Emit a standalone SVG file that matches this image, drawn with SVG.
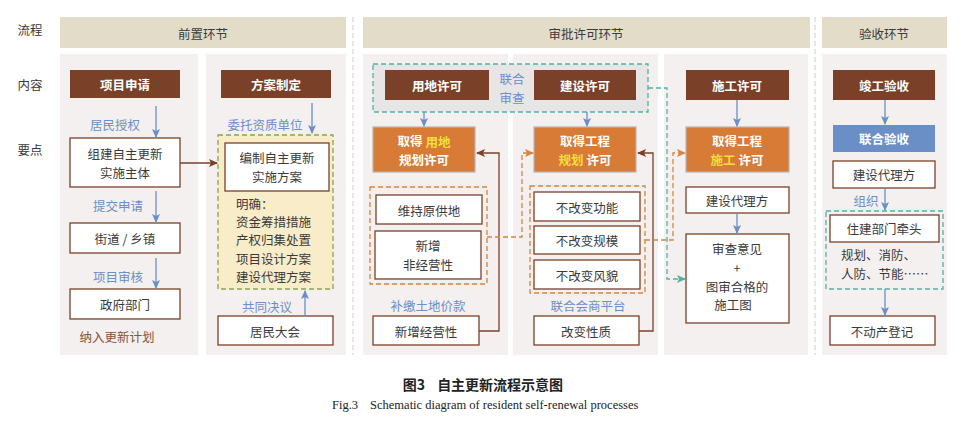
<svg xmlns="http://www.w3.org/2000/svg" width="971" height="421" viewBox="0 0 971 421">
<style>
.panel{fill:#f4f0ef}
.hdr{fill:#e3dcc8}
.bn{fill:#7a4128}
.wb{fill:#fff;stroke:#7a4128;stroke-width:1.3}
.ob{fill:#d77b37;stroke:#b5b5b5;stroke-width:1.2}
.blb{fill:#6a8fc6}
.t{font-family:"Noto Sans CJK SC","Noto Sans",sans-serif;font-size:12.5px;fill:#3a3a3a;text-anchor:middle;dominant-baseline:central}
.l{text-anchor:start}
.w{fill:#fff;font-weight:bold}
.b{fill:#6d8ec6}
.br{fill:#8a5038}
.y{fill:#f3df3c}
.arB{fill:none;stroke:#6a8fc8;stroke-width:1.3}
.arR{fill:none;stroke:#7a4128;stroke-width:1.3}
.dO{fill:none;stroke:#d8843e;stroke-width:1.3;stroke-dasharray:5,3}
.dT{fill:none;stroke:#4fb3a4;stroke-width:1.3;stroke-dasharray:5,3}
.dG{stroke:#86a64a;stroke-width:1.3;stroke-dasharray:5,3}
.sep{stroke:#d8d4d4;stroke-width:1.2;stroke-dasharray:5,3}
</style>
<defs>
<marker id="mB" markerWidth="10" markerHeight="10" refX="8" refY="4" orient="auto" markerUnits="userSpaceOnUse"><path d="M0,0 L9,4 L0,8 L2,4 z" fill="#6a8fc8"/></marker>
<marker id="mR" markerWidth="10" markerHeight="10" refX="8" refY="4" orient="auto" markerUnits="userSpaceOnUse"><path d="M0,0 L9,4 L0,8 L2,4 z" fill="#7a4128"/></marker>
<marker id="mO" markerWidth="10" markerHeight="10" refX="8" refY="4" orient="auto" markerUnits="userSpaceOnUse"><path d="M0,0 L9,4 L0,8 L2,4 z" fill="#d8843e"/></marker>
<marker id="mT" markerWidth="10" markerHeight="10" refX="8" refY="4" orient="auto" markerUnits="userSpaceOnUse"><path d="M0,0 L9,4 L0,8 L2,4 z" fill="#4fb3a4"/></marker>
</defs>
<rect width="971" height="421" fill="#fff"/>

<g id="rowlabels">
<text class="t" x="30" y="29">流程</text>
<text class="t" x="30" y="84">内容</text>
<text class="t" x="30" y="149">要点</text>
</g>

<g id="headers">
<rect class="hdr" x="60" y="17" width="286" height="31"/>
<text class="t" x="203" y="33">前置环节</text>
<rect class="hdr" x="363" y="17" width="447" height="31"/>
<text class="t" x="586" y="33">审批许可环节</text>
<rect class="hdr" x="822" y="17" width="125" height="31"/>
<text class="t" x="884" y="33">验收环节</text>
<line class="sep" x1="353" y1="17" x2="353" y2="355"/>
<line class="sep" x1="815" y1="17" x2="815" y2="355"/>
</g>

<g id="panels">
<rect class="panel" x="60" y="54" width="138" height="301"/>
<rect class="panel" x="206" y="54" width="140" height="301"/>
<rect class="panel" x="363" y="54" width="145" height="301"/>
<rect class="panel" x="513" y="54" width="145" height="301"/>
<rect class="panel" x="664" y="54" width="144" height="301"/>
<rect class="panel" x="822" y="54" width="125" height="301"/>
</g>

<!-- Column 1 -->
<g id="n-xmsq"><rect class="bn" x="70" y="70" width="110" height="28"/><text class="t w" x="125" y="84">项目申请</text></g>
<g id="n-zjzt"><rect class="wb" x="70" y="138" width="110" height="49"/><text class="t" x="125" y="153.5">组建自主更新</text><text class="t" x="125" y="172">实施主体</text></g>
<g id="n-jd"><rect class="wb" x="70" y="223" width="110" height="30"/><text class="t" x="125" y="238">街道 / 乡镇</text></g>
<g id="n-zf"><rect class="wb" x="70" y="289" width="110" height="30"/><text class="t" x="125" y="304">政府部门</text></g>
<g id="n-nr"><text class="t br" x="117" y="336">纳入更新计划</text></g>

<!-- Column 2 -->
<g id="n-fazd"><rect class="bn" x="221" y="70" width="110" height="28"/><text class="t w" x="276" y="84">方案制定</text></g>
<g id="n-famx">
<rect class="dG" x="218" y="135" width="115" height="154" fill="#f9ecc9"/>
<rect class="wb" x="225" y="143" width="104" height="48"/>
<text class="t" x="277" y="157.5">编制自主更新</text><text class="t" x="277" y="176">实施方案</text>
<text class="t l" x="236" y="203">明确：</text>
<text class="t l" x="236" y="221.4">资金筹措措施</text>
<text class="t l" x="236" y="239.8">产权归集处置</text>
<text class="t l" x="236" y="258.2">项目设计方案</text>
<text class="t l" x="236" y="276.6">建设代理方案</text>
</g>
<g id="n-jmdh"><rect class="wb" x="218" y="316" width="115" height="29"/><text class="t" x="275" y="331">居民大会</text></g>

<!-- Column 3/4 approvals -->
<g id="n-lhsc">
<rect x="373" y="64" width="275" height="48" fill="#e7e5e5" stroke="#4fb3a4" stroke-width="1.3" stroke-dasharray="5,3"/>
<text class="t b" x="512" y="78.5">联合</text><text class="t b" x="512" y="97">审查</text>
</g>
<g id="n-ydxk"><rect class="bn" x="385" y="70" width="104" height="30"/><text class="t w" x="437" y="85">用地许可</text></g>
<g id="n-jsxk"><rect class="bn" x="534" y="70" width="102" height="30"/><text class="t w" x="585" y="85">建设许可</text></g>
<g id="n-qdyd"><rect class="ob" x="373" y="127" width="102" height="45"/><text class="t w" x="424" y="140.5">取得 <tspan class="y">用地</tspan></text><text class="t w" x="424" y="159">规划许可</text></g>
<g id="n-qdgh"><rect class="ob" x="534" y="127" width="102" height="45"/><text class="t w" x="585" y="140.5">取得工程</text><text class="t w" x="585" y="159"><tspan class="y">规划</tspan> 许可</text></g>
<g id="n-ydgroup">
<rect class="dO" x="370" y="187" width="117" height="97"/>
<rect class="wb" x="376" y="195" width="106" height="29"/><text class="t" x="429" y="210">维持原供地</text>
<rect class="wb" x="375" y="231" width="106" height="48"/><text class="t" x="428" y="245.5">新增</text><text class="t" x="428" y="264">非经营性</text>
</g>
<g id="n-bj"><text class="t b" x="428" y="305">补缴土地价款</text></g>
<g id="n-xzjy"><rect class="wb" x="373" y="316" width="106" height="29"/><text class="t" x="426" y="331">新增经营性</text></g>
<g id="n-ghgroup">
<rect class="dO" x="530" y="186" width="115" height="107"/>
<rect class="wb" x="534" y="192" width="106" height="29"/><text class="t" x="587" y="207">不改变功能</text>
<rect class="wb" x="534" y="226" width="106" height="28"/><text class="t" x="587" y="240">不改变规模</text>
<rect class="wb" x="534" y="260" width="106" height="29"/><text class="t" x="587" y="275">不改变风貌</text>
</g>
<g id="n-lhhs"><text class="t b" x="588" y="305">联合会商平台</text></g>
<g id="n-gbxz"><rect class="wb" x="534" y="316" width="105" height="29"/><text class="t" x="586" y="331">改变性质</text></g>

<!-- Column 5 -->
<g id="n-sgxk"><rect class="bn" x="686" y="70" width="103" height="30"/><text class="t w" x="737" y="85">施工许可</text></g>
<g id="n-qdsg"><rect class="ob" x="686" y="127" width="103" height="45"/><text class="t w" x="737" y="140.5">取得工程</text><text class="t w" x="737" y="159"><tspan class="y">施工</tspan> 许可</text></g>
<g id="n-jsdl1"><rect class="wb" x="686" y="187" width="103" height="26"/><text class="t" x="737" y="200">建设代理方</text></g>
<g id="n-scyj"><rect class="wb" x="686" y="234" width="103" height="89"/>
<text class="t" x="737" y="248.5">审查意见</text><text class="t" x="737" y="267">+</text><text class="t" x="737" y="286">图审合格的</text><text class="t" x="733" y="304.5">施工图</text></g>

<!-- Column 6 -->
<g id="n-jgys"><rect class="bn" x="833" y="70" width="102" height="30"/><text class="t w" x="884" y="85">竣工验收</text></g>
<g id="n-lhys"><rect class="blb" x="833" y="125" width="102" height="27"/><text class="t w" x="884" y="138">联合验收</text></g>
<g id="n-jsdl2"><rect class="wb" x="833" y="161" width="102" height="27"/><text class="t" x="884" y="174">建设代理方</text></g>
<g id="n-zz"><text class="t b" x="866" y="200">组织</text></g>
<g id="n-zjbm">
<rect class="dT" x="826" y="211" width="117" height="78"/>
<rect class="wb" x="830" y="215" width="109" height="27"/><text class="t" x="884" y="228">住建部门牵头</text>
<text class="t l" x="841" y="254">规划、消防、</text>
<text class="t l" x="841" y="273">人防、节能……</text>
</g>
<g id="n-bdc"><rect class="wb" x="830" y="316" width="105" height="29"/><text class="t" x="882" y="331">不动产登记</text></g>

<g id="connectors">
<line class="arB" x1="156" y1="106" x2="156" y2="137" marker-end="url(#mB)"/>
<text class="t b" x="115" y="124">居民授权</text>
<line class="arB" x1="156" y1="191" x2="156" y2="222" marker-end="url(#mB)"/>
<text class="t b" x="118" y="205">提交申请</text>
<line class="arB" x1="156" y1="258" x2="156" y2="288" marker-end="url(#mB)"/>
<text class="t b" x="118" y="276">项目审核</text>
<line class="arR" x1="180" y1="163" x2="217" y2="163" marker-end="url(#mR)"/>
<line class="arB" x1="312" y1="103" x2="312" y2="133" marker-end="url(#mB)"/>
<text class="t b" x="265" y="124">委托资质单位</text>
<line class="arB" x1="305" y1="316" x2="305" y2="291" marker-end="url(#mB)"/>
<text class="t b" x="267" y="306">共同决议</text>
<line class="arB" x1="424" y1="112" x2="424" y2="126" marker-end="url(#mB)"/>
<line class="arB" x1="587" y1="112" x2="587" y2="126" marker-end="url(#mB)"/>
<polyline class="arR" points="479,331 499,331 499,153 477,153" marker-end="url(#mR)"/>
<polyline class="arR" points="639,331 653,331 653,153 638,153" marker-end="url(#mR)"/>
<polyline class="dO" points="487,237 522,237 522,153 533,153" marker-end="url(#mO)"/>
<polyline class="dO" points="645,240 673,240 673,153 685,153" marker-end="url(#mO)"/>
<polyline class="dT" points="648,88 667,88 667,279 685,279" marker-end="url(#mT)"/>
<line class="arB" x1="737" y1="100" x2="737" y2="126" marker-end="url(#mB)"/>
<line class="arB" x1="737" y1="213" x2="737" y2="233" marker-end="url(#mB)"/>
<line class="arB" x1="885" y1="100" x2="885" y2="124" marker-end="url(#mB)"/>
<line class="arB" x1="885" y1="188" x2="885" y2="210" marker-end="url(#mB)"/>
<line class="arB" x1="885" y1="289" x2="885" y2="315" marker-end="url(#mB)"/>
</g>

<g id="caption">
<text x="483" y="384" text-anchor="middle" dominant-baseline="central" font-family="Noto Sans CJK SC,sans-serif" font-size="14" font-weight="bold" fill="#222">图3<tspan dx="12">自主更新流程示意图</tspan></text>
<text x="332" y="409" font-family="Liberation Serif,serif" font-size="12.5" fill="#222">Fig.3<tspan dx="12">Schematic diagram of resident self-renewal processes</tspan></text>
</g>
</svg>
